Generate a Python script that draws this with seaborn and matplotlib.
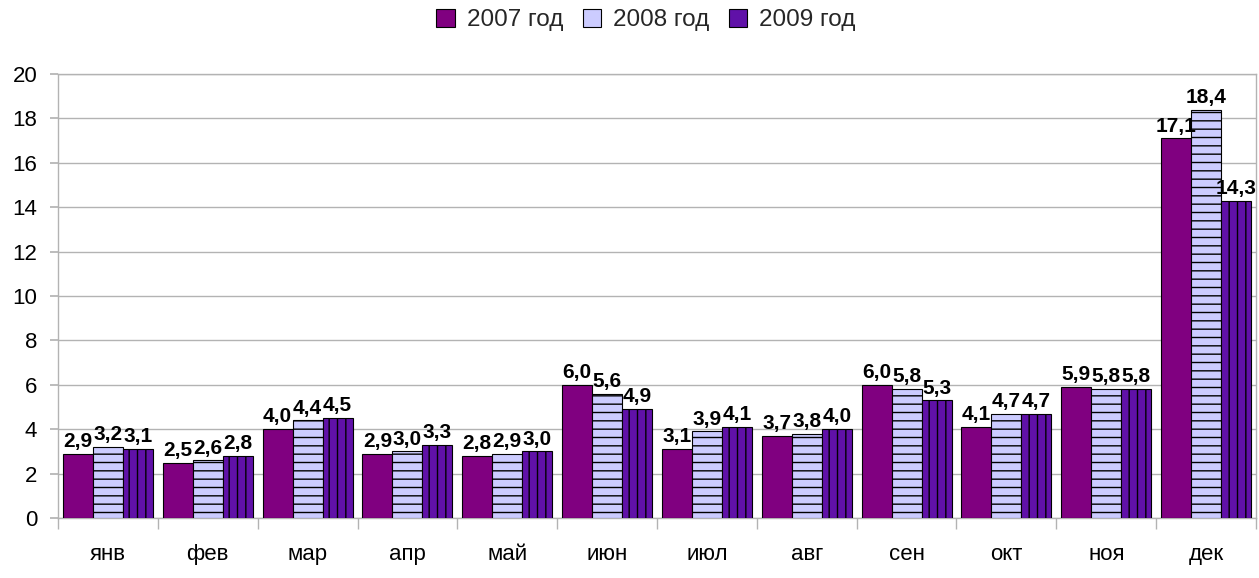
import matplotlib
matplotlib.use("Agg")
import matplotlib.pyplot as plt
import seaborn as sns
import pandas as pd
import numpy as np

months = ["янв", "фев", "мар", "апр", "май", "июн", "июл", "авг", "сен", "окт", "ноя", "дек"]
series_names = ["2007 год", "2008 год", "2009 год"]
v2007 = [2.9, 2.5, 4.0, 2.9, 2.8, 6.0, 3.1, 3.7, 6.0, 4.1, 5.9, 17.1]
v2008 = [3.2, 2.6, 4.4, 3.0, 2.9, 5.6, 3.9, 3.8, 5.8, 4.7, 5.8, 18.4]
v2009 = [3.1, 2.8, 4.5, 3.3, 3.0, 4.9, 4.1, 4.0, 5.3, 4.7, 5.8, 14.3]
yticks = [0, 2, 4, 6, 8, 10, 12, 14, 16, 18, 20]

colors = ["#800080", "#CCCCFF", "#6011A8"]
hatches = ["", "--", "||"]

df = pd.DataFrame({
    "month": months * 3,
    "value": v2007 + v2008 + v2009,
    "series": [series_names[0]] * 12 + [series_names[1]] * 12 + [series_names[2]] * 12,
})

sns.set_theme(style="white")
plt.rcParams["font.family"] = ["Liberation Sans", "DejaVu Sans"]
plt.rcParams["hatch.linewidth"] = 1.0
plt.rcParams["hatch.color"] = "black"

fig = plt.figure(figsize=(12.59, 5.78), dpi=100)
ax = fig.add_axes([58 / 1259, 1 - 518 / 578, (1256 - 58) / 1259, (518 - 74) / 578])

sns.barplot(data=df, x="month", y="value", hue="series", order=months,
            hue_order=series_names, palette=colors, saturation=1, width=0.9, gap=0,
            edgecolor="black", linewidth=0.8, ax=ax, legend=True, zorder=3)

for cont, h in zip(ax.containers, hatches):
    for bar in cont:
        bar.set_hatch(h)
    ax.bar_label(cont, labels=[f"{b.get_height():.1f}".replace(".", ",") for b in cont],
                 padding=2, fontsize=15, fontweight="bold", color="black")

ax.set_ylim(0, 20)
ax.set_yticks(yticks)
ax.set_xlim(-0.5, 11.5)
ax.grid(axis="y", color="#B3B3B3", linewidth=1, zorder=0)
ax.set_axisbelow(True)
for s in ax.spines.values():
    s.set_color("#B3B3B3")
    s.set_linewidth(1)
ax.set_xlabel("")
ax.set_ylabel("")
ax.tick_params(axis="y", left=True, length=6, color="#B3B3B3", labelsize=16, pad=9)
ax.tick_params(axis="x", which="major", length=0, labelsize=16, pad=19)
ax.set_xticks(np.arange(-0.5, 12, 1), minor=True)
ax.tick_params(axis="x", which="minor", bottom=True, length=8, color="#B3B3B3")

for lab in ax.get_xticklabels() + ax.get_yticklabels():
    lab.set_color("black")

handles, labels = ax.get_legend_handles_labels()
ax.legend_.remove()
fig.legend(handles, labels, loc="center", bbox_to_anchor=(0.513, 1 - 20 / 578), ncol=3,
           frameon=False, fontsize=17.5, handlelength=0.75, handleheight=0.75,
           handletextpad=0.5, columnspacing=0.8)

fig.savefig("out.png", dpi=100, facecolor="white")
